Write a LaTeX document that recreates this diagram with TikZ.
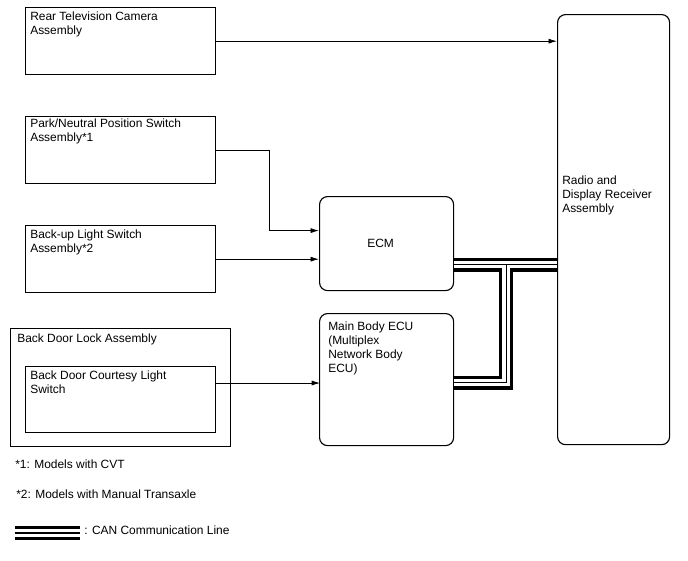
\documentclass[tikz,border=0pt]{standalone}
\usepackage{fontspec}
\setmainfont{Liberation Sans}
\usetikzlibrary{arrows.meta,positioning,calc}

\begin{document}
\begin{tikzpicture}[x=0.025cm, y=-0.025cm,
  node_box/.style={draw, line width=0.8pt, minimum width=4.75cm, minimum height=1.68cm, anchor=north west, inner sep=0pt},
  node_ecu/.style={draw, line width=0.8pt, rounded corners=0.2cm, anchor=north west, inner sep=0pt},
  txt/.style={font=\fontsize{8.5}{9.9}\selectfont, align=left, inner sep=0pt, anchor=north west},
  arr/.style={-{Latex[length=6pt,width=3.6pt]}, line width=0.6pt},
  can_out/.style={line width=9.9pt, black},
  can_mid/.style={line width=5.4pt, white},
  can_in/.style={line width=0.9pt, black}
]
  \useasboundingbox (0,0) rectangle (688,560);

  %% Switches and camera on the left
  \node[node_box] (cam)   at (25,7)   {};
  \node[node_box] (park)  at (25,116) {};
  \node[node_box] (bkup)  at (25,225) {};
  \node[node_box, minimum width=5.5cm, minimum height=2.95cm] (bdlock) at (10,328) {};
  \node[node_box, minimum height=1.65cm] (court) at (25,366) {};

  \node[txt] (cam_t)    at ($(cam.north west)+(5,5)$)    {Rear Television Camera\\Assembly};
  \node[txt] (park_t)   at ($(park.north west)+(5,3)$)   {Park/Neutral Position Switch\\Assembly*1};
  \node[txt] (bkup_t)   at ($(bkup.north west)+(5,5)$)   {Back-up Light Switch\\Assembly*2};
  \node[txt] (bdlock_t) at ($(bdlock.north west)+(7,6)$) {Back Door Lock Assembly};
  \node[txt] (court_t)  at ($(court.north west)+(5,5)$)  {Back Door Courtesy Light\\Switch};

  %% ECUs and receiver
  \node[node_ecu, minimum width=3.35cm, minimum height=2.35cm] (ecm)    at (319,196) {};
  \node[node_ecu, minimum width=3.35cm, minimum height=3.3cm]  (mbecu)  at (319,313) {};
  \node[node_ecu, minimum width=2.8cm,  minimum height=10.75cm] (radio) at (557,14)  {};

  \node[txt, anchor=center] (ecm_t) at ($(ecm.center)+(-6,0)$) {ECM};
  \node[txt] (mbecu_t) at ($(mbecu.north west)+(9,9)$)  {Main Body ECU\\(Multiplex\\Network Body\\ECU)};
  \node[txt] (radio_t) at ($(radio.north west)+(5,162)$) {Radio and\\Display Receiver\\Assembly};

  %% Signal lines
  \draw[arr] (cam.east) -- (cam.east -| radio.west);
  \draw[arr] (park.east) -- ++(53,0) |- ($(ecm.west)+(0,-13)$);
  \draw[arr] (bkup.east) -- (bkup.east -| ecm.west);
  \draw[arr] ($(court.north east)+(0,17)$) -- ($(court.north east)+(104,17)$);

  %% CAN lines
  \coordinate (can_e) at ($(ecm.east)+(0,21)$);
  \coordinate (can_m) at ($(mbecu.east)+(0,3)$);
  \coordinate (can_j) at ($(can_e)+(52,0)$);
  \foreach \s in {can_out,can_mid,can_in} {
    \draw[\s] (can_e) -- (can_e -| radio.west);
    \draw[\s] (can_j) |- (can_m);
  }

  %% Notes
  \node[txt, anchor=west] (note1) at (15,464) {*1: Models with CVT};
  \node[txt, anchor=west] (note2) at (16,494) {*2: Models with Manual Transaxle};
  \coordinate (leg_a) at (15,533);
  \coordinate (leg_b) at (80,533);
  \foreach \s in {can_out,can_mid,can_in}
    \draw[\s] (leg_a) -- (leg_b);
  \node[txt, anchor=west] (leg_t) at ($(leg_b)+(4,-3)$) {: CAN Communication Line};
\end{tikzpicture}
\end{document}
